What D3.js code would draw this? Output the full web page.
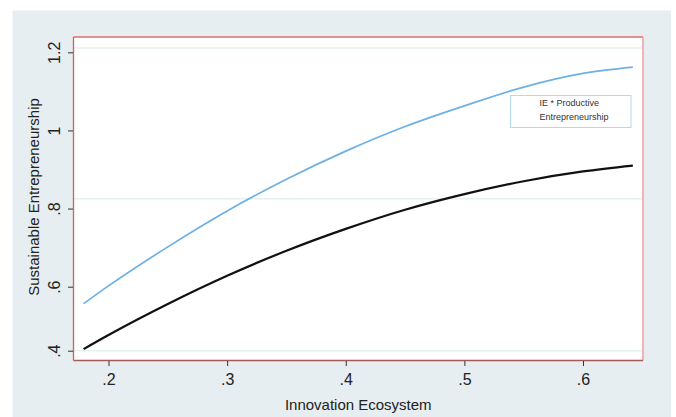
<!DOCTYPE html>
<html>
<head>
<meta charset="utf-8">
<script src="https://cdn.jsdelivr.net/npm/d3@7"></script>
<style>
  body { margin: 0; background: #fff; }
  svg { display: block; font-family: "Liberation Sans", Arial, sans-serif; }
</style>
</head>
<body>
<svg id="chart" width="676" height="417"></svg>
<script>
// values
const xTicks = [0.2, 0.3, 0.4, 0.5, 0.6];
const yTicks = [0.4, 0.6, 0.8, 1, 1.2];
const gridVals = [0.4, 0.825, 1.211];
const ieValues = [0.179, 0.2, 0.25, 0.3, 0.35, 0.4, 0.45, 0.5, 0.55, 0.6, 0.642];
const productive = [0.547, 0.602, 0.702, 0.794, 0.875, 0.947, 1.010, 1.063, 1.111, 1.146, 1.162];
const baseline = [0.405, 0.449, 0.546, 0.628, 0.692, 0.748, 0.797, 0.837, 0.870, 0.895, 0.910];
const legendLines = ['IE * Productive', 'Entrepreneurship'];

const svg = d3.select('#chart');
const plot = { left: 73.5, right: 643, top: 37, bottom: 360.5 };

// grey panel behind everything
svg.append('rect').attr('x', 12.5).attr('y', 10.5).attr('width', 658.5).attr('height', 407)
  .attr('fill', '#e6eef1');
svg.append('rect').attr('x', plot.left).attr('y', plot.top)
  .attr('width', plot.right - plot.left).attr('height', plot.bottom - plot.top)
  .attr('fill', '#fff');

const x = d3.scaleLinear().domain([0.2, 0.6]).range([108.5, 583]);
// the source figure's y axis is not evenly spaced, so the scale is piecewise
const y = d3.scaleLinear().domain([0.4, 0.6, 1.2]).range([350.7, 286.7, 52.3]);
const fmt = d => String(d).replace(/^0\./, '.');

svg.append('g').selectAll('line').data(gridVals).enter().append('line')
  .attr('x1', plot.left).attr('x2', plot.right)
  .attr('y1', d => y(d)).attr('y2', d => y(d))
  .attr('stroke', '#e9f0f2').attr('stroke-width', 1.5);

const line = d3.line().x((d, i) => x(ieValues[i])).y(d => y(d)).curve(d3.curveMonotoneX);
svg.append('path').datum(productive).attr('d', line)
  .attr('fill', 'none').attr('stroke', '#6db0e6').attr('stroke-width', 1.7);
svg.append('path').datum(baseline).attr('d', line)
  .attr('fill', 'none').attr('stroke', '#111').attr('stroke-width', 2.2);

// frame
svg.append('line').attr('x1', plot.left).attr('x2', plot.right).attr('y1', plot.top).attr('y2', plot.top)
  .attr('stroke', '#e56a6a').attr('stroke-width', 1.3);
svg.append('line').attr('x1', plot.right).attr('x2', plot.right).attr('y1', plot.top).attr('y2', plot.bottom)
  .attr('stroke', '#f4a3a3').attr('stroke-width', 1.6);
svg.append('line').attr('x1', plot.left).attr('x2', plot.left).attr('y1', plot.top).attr('y2', plot.bottom)
  .attr('stroke', '#c96262').attr('stroke-width', 1.3);
svg.append('line').attr('x1', plot.left).attr('x2', plot.right).attr('y1', plot.bottom).attr('y2', plot.bottom)
  .attr('stroke', '#a85a55').attr('stroke-width', 1.5);

// axes
const xAxis = svg.append('g').attr('transform', `translate(0,${plot.bottom + 0.5})`)
  .call(d3.axisBottom(x).tickValues(xTicks).tickFormat(fmt).tickSize(5).tickPadding(8));
xAxis.select('.domain').remove();
xAxis.selectAll('line').attr('stroke', '#333');
xAxis.selectAll('text').attr('font-size', 16).attr('fill', '#222').attr('font-family', 'Liberation Sans, Arial, sans-serif');

const yAxis = svg.append('g').attr('transform', `translate(${plot.left - 0.5},0)`)
  .call(d3.axisLeft(y).tickValues(yTicks).tickFormat(fmt).tickSize(5).tickPadding(0));
yAxis.select('.domain').remove();
yAxis.selectAll('line').attr('stroke', '#333');
yAxis.selectAll('text')
  .attr('font-size', 16).attr('fill', '#222').attr('font-family', 'Liberation Sans, Arial, sans-serif')
  .attr('x', null).attr('dy', null)
  .attr('text-anchor', 'middle')
  .attr('transform', 'translate(-13,0) rotate(-90)');

svg.append('text').attr('x', (plot.left + plot.right) / 2).attr('y', 410)
  .attr('text-anchor', 'middle').attr('font-size', 15).attr('fill', '#222')
  .text('Innovation Ecosystem');
svg.append('text').attr('transform', 'translate(39,197) rotate(-90)')
  .attr('text-anchor', 'middle').attr('font-size', 15).attr('fill', '#222')
  .text('Sustainable Entrepreneurship');

// legend
const lg = svg.append('g').attr('transform', 'translate(510.5,95.5)');
lg.append('rect').attr('width', 120.5).attr('height', 32)
  .attr('fill', '#fff').attr('stroke', '#b3d8f3').attr('stroke-width', 1);
lg.selectAll('text').data(legendLines).enter().append('text')
  .attr('x', 29).attr('y', (d, i) => 10 + i * 14.3)
  .attr('font-size', 9).attr('fill', '#333')
  .text(d => d);
</script>
</body>
</html>
